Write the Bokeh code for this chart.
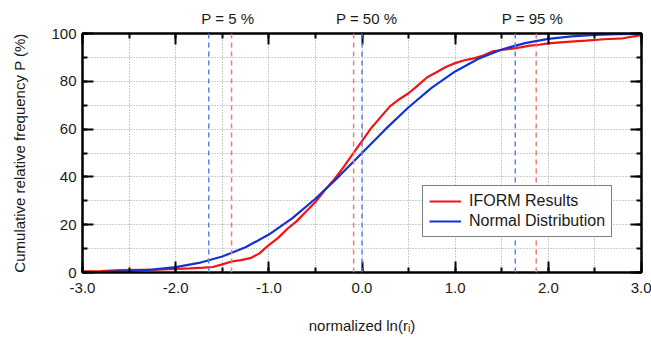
from bokeh.plotting import figure
from bokeh.models import (Range1d, LinearAxis, SingleIntervalTicker, FixedTicker, PrintfTickFormatter,
                          CustomJSTickFormatter, Span, Legend, LegendItem)
from bokeh.embed import file_html
from bokeh.resources import INLINE

# ---- data ----
iform_x = [-3.0, -2.8, -2.6, -2.4, -2.2, -2.0, -1.85, -1.7, -1.6, -1.5, -1.4, -1.3, -1.2, -1.1,
           -1.0, -0.9, -0.8, -0.7, -0.6, -0.5, -0.4, -0.3, -0.2, -0.1, 0.0, 0.1, 0.2, 0.3, 0.4,
           0.5, 0.6, 0.7, 0.8, 0.9, 1.0, 1.1, 1.2, 1.3, 1.4, 1.5, 1.6, 1.7, 1.8, 1.9, 2.0, 2.2,
           2.4, 2.6, 2.8, 3.0]
iform_p = [0.5, 0.6, 1.0, 1.1, 1.2, 1.5, 1.7, 2.0, 2.3, 3.4, 4.6, 5.2, 6.0, 8.0,
           11.5, 14.5, 18.3, 21.5, 25.5, 29.5, 34.4, 38.8, 44.0, 49.5, 55.0, 60.5, 65.0, 69.5, 72.5,
           75.0, 78.3, 81.7, 83.8, 86.0, 87.6, 88.8, 89.6, 90.8, 92.5, 93.1, 93.6, 94.2, 94.9, 95.3,
           95.9, 96.5, 97.0, 97.6, 98.0, 99.3]

normal_x = [-3.0, -2.75, -2.5, -2.25, -2.0, -1.75, -1.5, -1.25, -1.0, -0.75, -0.5, -0.25, 0.0,
            0.25, 0.5, 0.75, 1.0, 1.25, 1.5, 1.75, 2.0, 2.25, 2.5, 2.75, 3.0]
normal_p = [0.13, 0.3, 0.62, 1.22, 2.28, 4.0, 6.68, 10.56, 15.87, 22.66, 30.85, 40.13, 50.0,
            59.87, 69.15, 77.34, 84.13, 89.44, 93.32, 95.99, 97.72, 98.78, 99.38, 99.7, 99.87]

normal_marks = [-1.645, 0.0, 1.645]
iform_marks = [-1.40, -0.09, 1.87]
mark_labels = ["P = 5 %", "P = 50 %", "P = 95 %"]
label_x = [-1.44, 0.05, 1.83]

x_title = "normalized ln(r\u1d62)"
y_title = "Cumulative relative frequency P (%)"

RED = "#f01414"
BLUE = "#1432d2"
FONT = "Liberation Sans"
TXT = "#1a1a1a"

p = figure(width=651, height=338, output_backend="svg", toolbar_location=None,
           x_range=Range1d(-3, 3), y_range=Range1d(0, 100),
           min_border_left=82, min_border_right=10, min_border_top=33, min_border_bottom=66,
           background_fill_color="white", border_fill_color="white")

p.outline_line_color = "black"
p.outline_line_width = 2

empty = CustomJSTickFormatter(code="return '';")

def style_axis(ax, labels):
    ax.axis_line_width = 2
    ax.axis_line_color = "black"
    ax.major_tick_in = 11
    ax.major_tick_out = 0
    ax.minor_tick_in = 5
    ax.minor_tick_out = 0
    ax.major_tick_line_width = 2
    ax.minor_tick_line_width = 2
    ax.major_tick_line_color = "black"
    ax.minor_tick_line_color = "black"
    ax.major_label_text_font = FONT
    ax.major_label_text_font_size = "15px"
    ax.major_label_text_color = TXT
    ax.axis_label_text_font = FONT
    ax.axis_label_text_font_size = "15px"
    ax.axis_label_text_font_style = "normal"
    ax.axis_label_text_color = TXT
    if not labels:
        ax.formatter = empty
        ax.major_label_standoff = 0

p.xaxis.ticker = SingleIntervalTicker(interval=1, num_minor_ticks=2)
p.yaxis.ticker = SingleIntervalTicker(interval=20, num_minor_ticks=2)
p.xaxis.formatter = PrintfTickFormatter(format="%.1f")
style_axis(p.xaxis[0], True)
style_axis(p.yaxis[0], True)
p.xaxis.major_label_standoff = 10
p.yaxis.major_label_standoff = 6
p.xaxis.axis_label = x_title
p.yaxis.axis_label = y_title
p.xaxis.axis_label_standoff = 21
p.yaxis.axis_label_standoff = 20

# top axis: ticks only
top = LinearAxis(ticker=SingleIntervalTicker(interval=1, num_minor_ticks=2))
style_axis(top, False)
p.add_layout(top, "above")

# top axis: the P = ... captions
cap = LinearAxis(ticker=FixedTicker(ticks=label_x),
                 major_label_overrides={v: t for v, t in zip(label_x, mark_labels)})
cap.axis_line_color = None
cap.major_tick_line_color = None
cap.minor_tick_line_color = None
cap.major_label_text_font = FONT
cap.major_label_text_font_size = "15px"
cap.major_label_text_color = TXT
cap.major_label_standoff = 1
p.add_layout(cap, "above")

right = LinearAxis(ticker=SingleIntervalTicker(interval=20, num_minor_ticks=2))
style_axis(right, False)
p.add_layout(right, "right")

p.xgrid.ticker = SingleIntervalTicker(interval=0.5)
p.ygrid.ticker = SingleIntervalTicker(interval=10)
for g in (p.xgrid[0], p.ygrid[0]):
    g.grid_line_color = "#9a9a9a"
    g.grid_line_dash = "1 2"
    g.grid_line_width = 1

for xv in normal_marks:
    p.add_layout(Span(location=xv, dimension="height", line_color="#5a82ec",
                      line_dash="5 4", line_width=1.5))
for xv in iform_marks:
    p.add_layout(Span(location=xv, dimension="height", line_color="#f27a7a",
                      line_dash="5 4", line_width=1.5))

r_red = p.line(iform_x, iform_p, line_color=RED, line_width=2.2)
r_blue = p.line(normal_x, normal_p, line_color=BLUE, line_width=2.2)

legend = Legend(items=[LegendItem(label="IFORM Results", renderers=[r_red]),
                       LegendItem(label="Normal Distribution", renderers=[r_blue])],
                location=(340, 35), border_line_color="black", border_line_width=1.5,
                background_fill_alpha=1.0, label_text_font=FONT, label_text_font_size="16px",
                label_text_color=TXT, glyph_width=32, glyph_height=16, label_height=16,
                spacing=2, padding=6, margin=0, label_standoff=8)
p.add_layout(legend, "center")

open("out.html", "w").write(file_html(p, INLINE))
